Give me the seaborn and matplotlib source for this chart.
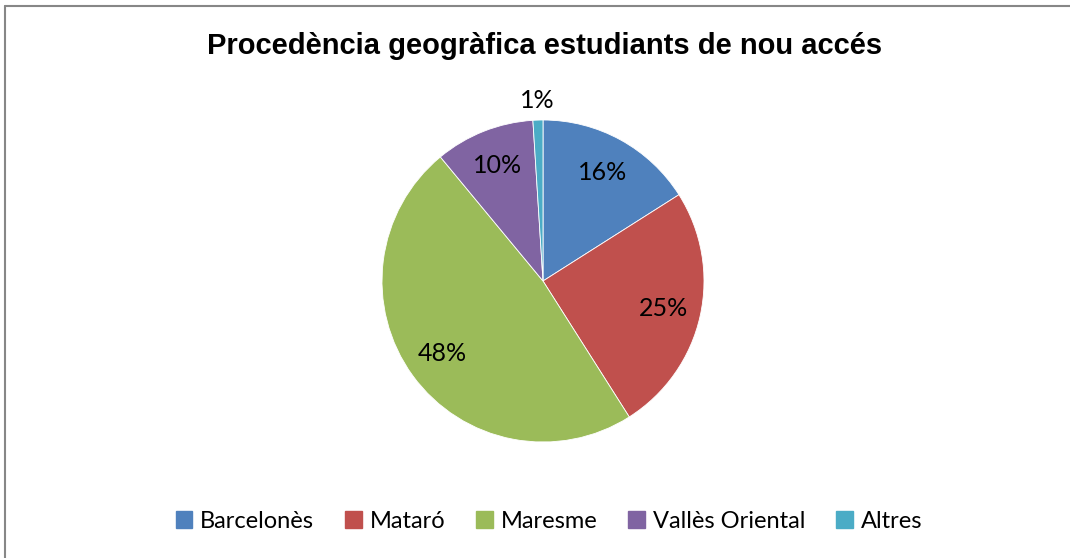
import numpy as np
import matplotlib
matplotlib.use("Agg")
import matplotlib.pyplot as plt
import seaborn as sns

categories = ["Barcelonès", "Mataró", "Maresme", "Vallès Oriental", "Altres"]
values = [16, 25, 48, 10, 1]
colors = ["#4F81BD", "#C0504D", "#9BBB59", "#8064A2", "#4BACC6"]
title = "Procedència geogràfica estudiants de nou accés"

sns.set_theme(style="white")
plt.rcParams['font.family'] = ['Lato', 'DejaVu Sans']
plt.rcParams['text.color'] = 'black'

W, H = 1070, 558
fig = plt.figure(figsize=(W / 100, H / 100), dpi=100)
fig.patch.set_facecolor("white")

cx, cy, r = 543, 281, 161
ax = fig.add_axes([(cx - r) / W, (H - cy - r) / H, 2 * r / W, 2 * r / H])
wedges, _ = ax.pie(values, colors=colors, startangle=90, counterclock=False,
                   radius=1, wedgeprops=dict(edgecolor="white", linewidth=0.6))
ax.set_xlim(-1, 1)
ax.set_ylim(-1, 1)
ax.set_aspect("equal")
ax.axis("off")

for w, v in zip(wedges, values):
    ang = np.deg2rad((w.theta1 + w.theta2) / 2)
    d = 0.77 if v >= 5 else 1.12
    ax.text(d * np.cos(ang), d * np.sin(ang), f"{v}%", ha="center", va="center",
            fontsize=18, color="black", clip_on=False)

fig.text(545 / W, 1 - 46.5 / H, title, ha="center", va="center", color="black",
         fontsize=21, fontweight="bold", family=["Liberation Sans", "DejaVu Sans"])

handles = [plt.Rectangle((0, 0), 1, 1, color=c) for c in colors]
leg = fig.legend(handles, categories, loc="center", bbox_to_anchor=(549 / W, 1 - 521 / H),
                 ncol=5, frameon=False, fontsize=17, handlelength=0.7, handleheight=0.7,
                 handletextpad=0.35, columnspacing=1.3)
for t in leg.get_texts():
    t.set_color("black")

# chart border (top and left visible)
fig.add_artist(plt.Line2D([4.5 / W, 4.5 / W], [0, 1 - 6 / H], transform=fig.transFigure,
                          color="#878787", linewidth=1.5))
fig.add_artist(plt.Line2D([4.5 / W, 1], [1 - 6 / H, 1 - 6 / H], transform=fig.transFigure,
                          color="#878787", linewidth=1.5))

fig.savefig("out.png", dpi=100, facecolor="white")
